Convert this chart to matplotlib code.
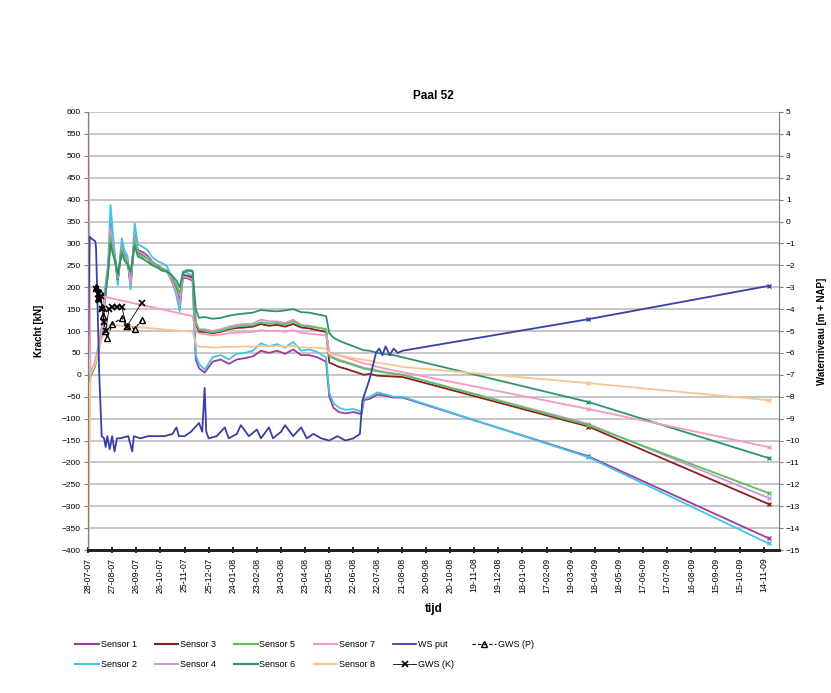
import numpy as np
import matplotlib
matplotlib.use("Agg")
import matplotlib.pyplot as plt
from matplotlib.lines import Line2D
from datetime import date, timedelta

plt.rcParams['font.family'] = ['Liberation Sans', 'DejaVu Sans']

nan = np.nan
start = date(2007, 7, 28)

# meetmomenten sensoren (dagen sinds 28-07-07)
dagen = [0, 3, 8, 13, 17, 21, 25, 28, 31, 34, 37, 42, 45, 49, 53, 58, 62, 68, 74, 80, 86, 92, 98, 104, 110, 114, 118, 124, 130, 134, 138,
         145, 155, 165, 175, 185, 195, 205, 215, 225, 235, 245, 255, 265, 275, 285, 296,
         300, 305, 312, 320, 330, 340, 343, 350, 360, 370, 380, 391,
         622, 846]

# krachten [kN]
sensor1 = [-15, 0, 20, 55, 100, 185, 245, 345, 300, 262, 215, 295, 275, 265, 200, 320, 285, 280, 272, 258, 250, 243, 238, 215, 185, 150, 222, 220, 215, 35, 15,
           5, 30, 35, 25, 35, 38, 42, 55, 50, 55, 48, 58, 45, 45, 40, 30,
           -50, -75, -85, -88, -85, -90, -58, -55, -45, -48, -52, -52,
           -186, -373]
sensor2 = [-10, 5, 25, 65, 110, 195, 255, 388, 320, 265, 205, 312, 285, 272, 195, 346, 298, 292, 285, 268, 260, 255, 248, 225, 180, 145, 236, 232, 226, 45, 25,
           12, 40, 45, 35, 48, 50, 55, 72, 65, 70, 62, 75, 55, 58, 52, 40,
           -40, -65, -75, -80, -78, -85, -55, -50, -40, -45, -50, -50,
           -188, -385]
sensor3 = [-15, 0, 20, 55, 98, 180, 240, 325, 290, 258, 218, 288, 270, 260, 210, 312, 280, 274, 267, 255, 247, 240, 236, 220, 195, 165, 228, 226, 222, 115, 98,
           98, 95, 98, 104, 107, 108, 110, 116, 112, 114, 110, 116, 108, 106, 102, 98,
           28, 24, 18, 14, 8, 2, 0, 2, -2, -3, -4, -5,
           -118, -295]
sensor4 = [-12, 2, 22, 58, 102, 188, 248, 335, 295, 258, 220, 290, 272, 262, 205, 315, 282, 276, 268, 256, 248, 240, 236, 218, 190, 160, 225, 222, 218, 120, 104,
           104, 100, 104, 110, 114, 116, 117, 126, 122, 122, 118, 126, 114, 112, 108, 104,
           45, 40, 35, 30, 24, 18, 16, 14, 10, 6, 3, 0,
           -112, -281]
sensor5 = [-20, -5, 15, 50, 90, 170, 235, 315, 280, 262, 225, 285, 268, 258, 232, 305, 275, 270, 265, 252, 248, 242, 238, 225, 205, 185, 235, 240, 238, 120, 103,
           100, 97, 100, 106, 110, 112, 113, 120, 117, 118, 115, 122, 112, 110, 108, 104,
           42, 38, 32, 28, 22, 16, 14, 12, 8, 5, 3, 0,
           -115, -270]
sensor6 = [-18, -2, 18, 52, 92, 172, 232, 300, 275, 255, 230, 278, 262, 252, 235, 295, 270, 265, 258, 250, 245, 238, 235, 228, 215, 200, 232, 238, 236, 150, 130,
           132, 128, 130, 135, 138, 140, 142, 148, 146, 145, 147, 150, 143, 142, 138, 134,
           95, 85, 78, 72, 65, 58, 56, 55, 50, 47, 45, 40,
           -62, -190]
sensor7 = [700, 5, 25, 55, 100, 178] + [nan] * 22 + [134, 100, 95,
           93, 90, 92, 95, 96, 97, 98, 102, 100, 101, 98, 102, 96, 94, 92, 90,
           52, 48, 44, 40, 34, 28, 26, 24, 18, 14, 10, 6,
           -78, -165]
sensor8 = [-500, 0, 20, 50, 80, 100, 112, 114] + [nan] * 20 + [98, 70, 64,
           64, 62, 63, 64, 64, 65, 64, 66, 65, 66, 64, 66, 63, 62, 62, 60,
           48, 46, 44, 42, 38, 35, 34, 32, 28, 25, 22, 18,
           -19, -58]

# waterstand put [m + NAP]
ws_dagen = [0, 2, 5, 9, 10, 12, 14, 17, 20, 22, 24, 27, 30, 33, 36, 40, 50, 55, 57, 65, 75, 85, 95, 105, 110, 113, 120, 128, 138, 142,
            145, 147, 150, 160, 170, 175, 185, 190, 200, 210, 215, 225, 230, 240, 245, 255, 265, 272, 280, 290, 300, 310, 320, 330,
            338, 341, 350, 358, 362, 366, 370, 375, 380, 385, 391, 622, 846]
ws_put = [-6.5, -0.7, -0.8, -0.9, -1.2, -4.0, -7.0, -9.8, -9.9, -10.3, -9.8, -10.4, -9.8, -10.5, -9.9, -9.9, -9.8, -10.5, -9.8, -9.9,
          -9.8, -9.8, -9.8, -9.7, -9.4, -9.8, -9.8, -9.6, -9.2, -9.6,
          -7.6, -9.6, -9.9, -9.8, -9.4, -9.9, -9.7, -9.3, -9.8, -9.5, -9.9, -9.4, -9.9, -9.6, -9.3, -9.8, -9.4, -9.9, -9.7, -9.9,
          -10.0, -9.8, -10.0, -9.9,
          -9.7, -8.2, -7.2, -6.0, -5.8, -6.1, -5.7, -6.1, -5.8, -6.0, -5.9, -4.46, -2.94]

# grondwaterstand
gws_p_dagen = [10, 13, 15, 17, 19, 21, 24, 30, 42, 48, 58, 67]
gws_p = [-3.0, -3.5, -3.2, -3.9, -4.3, -5.0, -5.3, -4.7, -4.4, -4.75, -4.9, -4.5]
gws_k_dagen = [10, 12, 14, 16, 18, 20, 22, 26, 30, 36, 42, 48, 67]
gws_k = [-3.1, -3.3, -3.6, -3.4, -4.0, -4.6, -5.0, -4.0, -3.9, -3.9, -3.9, -4.8, -3.7]

namen = ['Sensor 1', 'Sensor 2', 'Sensor 3', 'Sensor 4', 'Sensor 5', 'Sensor 6', 'Sensor 7', 'Sensor 8']
kleuren = ['#9c3c9c', '#3fc6e6', '#8b2020', '#c99ad0', '#5cc05c', '#2e9468', '#f29ac4', '#f6c592']
sensoren = [sensor1, sensor2, sensor3, sensor4, sensor5, sensor6, sensor7, sensor8]


def datums(d):
    return [start + timedelta(days=int(x)) for x in d]


fig = plt.figure(figsize=(8.31, 6.93), dpi=100)
ax = fig.add_axes([0.1059, 0.2063, 0.8315, 0.6321])
ax2 = ax.twinx()

x = np.array(datums(dagen))
for naam, kleur, waarden in zip(namen, kleuren, sensoren):
    y = np.array(waarden, dtype=float)
    m = ~np.isnan(y)
    n = m.sum()
    ax.plot(x[m], y[m], color=kleur, lw=1.3, marker='x', ms=3.5, mew=1.0,
            markevery=[n - 2, n - 1], label=naam)

ax2.plot(datums(ws_dagen), ws_put, color='#3a3fa6', lw=1.3, marker='x', ms=3.5,
         markevery=[len(ws_put) - 2, len(ws_put) - 1])
ax2.plot(datums(gws_p_dagen), gws_p, color='black', lw=0.8, ls=(0, (3, 2)),
         marker='^', ms=4.5, mfc='none', mew=1.0)
ax2.plot(datums(gws_k_dagen), gws_k, color='black', lw=0.6,
         marker='x', ms=4.5, mew=1.2)

ax.set_ylim(-400, 600)
ax.set_yticks(np.arange(-400, 601, 50))
ax2.set_ylim(-15, 5)
ax2.set_yticks(np.arange(-15, 6, 1))

ax.set_xlim(start, start + timedelta(days=859))
ticks = [start + timedelta(days=30 * k) for k in range(29)]
ax.set_xticks(ticks)
ax.set_xticklabels([t.strftime('%d-%m-%y') for t in ticks], rotation=90, fontsize=6.3)

ax.grid(axis='y', color='#bdbdbd', lw=1.2)
ax.set_axisbelow(True)
ax.tick_params(axis='y', labelsize=6, length=3, color='#808080', pad=2)
ax.tick_params(axis='x', direction='inout', length=5, width=1.2, color='black', pad=3)
ax2.tick_params(axis='y', labelsize=6, length=3, color='#808080', pad=2)

for a in (ax, ax2):
    a.spines['top'].set_visible(False)
    a.spines['left'].set_color('#808080')
    a.spines['right'].set_color('#808080')
    a.spines['bottom'].set_color('#222222')
    a.spines['bottom'].set_linewidth(2.0)

ax.set_title('Paal 52', fontsize=8.5, fontweight='bold', pad=9)
ax.set_ylabel('Kracht [kN]', fontsize=7, fontweight='bold', labelpad=13)
ax2.set_ylabel('Waterniveau [m + NAP]', fontsize=7, fontweight='bold', labelpad=12)
ax.set_xlabel('tijd', fontsize=8.5, fontweight='bold', labelpad=7)

# legenda
handles = [Line2D([], [], color=k, lw=1.5) for k in kleuren]
labels = list(namen)
handles += [Line2D([], [], color='#3a3fa6', lw=1.3),
            Line2D([], [], color='black', lw=0.6, marker='x', ms=4.5, mew=1.2),
            Line2D([], [], color='black', lw=0.8, ls=(0, (3, 2)), marker='^', ms=4.5, mfc='none')]
labels += ['WS put', 'GWS (K)', 'GWS (P)']
fig.legend(handles, labels, ncol=6, loc='upper left', bbox_to_anchor=(0.081, 0.088),
           frameon=False, fontsize=6.5, handlelength=2.6, handletextpad=0.2,
           columnspacing=2.0, labelspacing=1.25)

fig.savefig('out.png', dpi=100)
